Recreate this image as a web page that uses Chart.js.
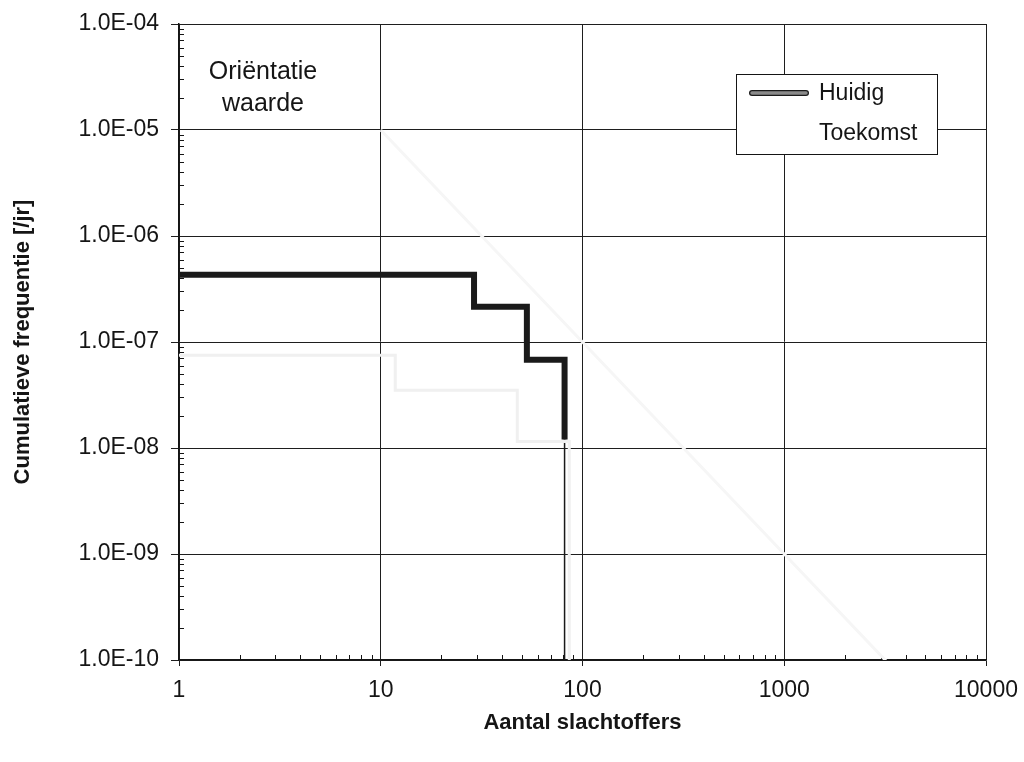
<!DOCTYPE html>
<html>
<head>
<meta charset="utf-8">
<script src="https://cdn.jsdelivr.net/npm/chart.js"></script>
<style>
  html, body { margin: 0; padding: 0; background: #fff; }
</style>
</head>
<body>
<canvas id="fnChart" width="1024" height="762"></canvas>
<script>
// waarden
const xTicks = [1, 10, 100, 1000, 10000];
const xTickLabels = ['1', '10', '100', '1000', '10000'];
const yTicks = [1e-10, 1e-9, 1e-8, 1e-7, 1e-6, 1e-5, 1e-4];
const yTickLabels = ['1.0E-10', '1.0E-09', '1.0E-08', '1.0E-07', '1.0E-06', '1.0E-05', '1.0E-04'];

const seriesNames = ['Huidig', 'Toekomst'];
const noteLines = ['Oriëntatie', 'waarde'];

const huidigN = [1, 29, 53, 81.5];
const huidigF = [4.3e-7, 2.15e-7, 6.8e-8, 1.2e-8];
const huidigTailN = [81.5, 81.5];
const huidigTailF = [1.2e-8, 1e-10];

const toekomstN = [1, 11.8, 47.5, 86];
const toekomstF = [7.5e-8, 3.5e-8, 1.15e-8, 1e-10];

const orientatieN = [10, 100, 1000, 10000];
const orientatieF = [1e-5, 1e-7, 1e-9, 1e-11];

const FONT = '"Liberation Sans", Arial, sans-serif';
const INK = '#151515';
const HUIDIG_GREY = '#8a8a8a';

function toPoints(xs, ys) {
    return xs.map((x, i) => ({ x: x, y: ys[i] }));
}

// kleine streepjes binnen de assen (2..9 per decade)
const minorMarks = {
    id: 'minorMarks',
    beforeDatasetsDraw(chart) {
        const { ctx, chartArea, scales } = chart;
        ctx.save();
        ctx.strokeStyle = INK;
        ctx.lineWidth = 1;
        ctx.beginPath();
        for (let d = 0; d < xTicks.length - 1; d++) {
            for (let m = 2; m <= 9; m++) {
                const px = Math.round(scales.x.getPixelForValue(xTicks[d] * m)) + 0.5;
                ctx.moveTo(px, chartArea.bottom);
                ctx.lineTo(px, chartArea.bottom - 5);
            }
        }
        for (let d = 0; d < yTicks.length - 1; d++) {
            for (let m = 2; m <= 9; m++) {
                const py = Math.round(scales.y.getPixelForValue(yTicks[d] * m)) + 0.5;
                ctx.moveTo(chartArea.left, py);
                ctx.lineTo(chartArea.left + 5, py);
            }
        }
        ctx.stroke();
        ctx.restore();
    }
};

// legenda in een kader en de tekst "Oriëntatie waarde"
const boxLegend = {
    id: 'boxLegend',
    afterDraw(chart) {
        const ctx = chart.ctx;
        ctx.save();
        ctx.fillStyle = '#fff';
        ctx.fillRect(736, 74, 201, 80);
        ctx.strokeStyle = INK;
        ctx.lineWidth = 1;
        ctx.strokeRect(736.5, 74.5, 201, 80);

        ctx.lineCap = 'round';
        ctx.strokeStyle = '#1a1a1a';
        ctx.lineWidth = 6;
        ctx.beginPath(); ctx.moveTo(752, 93); ctx.lineTo(806, 93); ctx.stroke();
        ctx.strokeStyle = HUIDIG_GREY;
        ctx.lineWidth = 3.5;
        ctx.beginPath(); ctx.moveTo(752, 93); ctx.lineTo(806, 93); ctx.stroke();

        ctx.fillStyle = INK;
        ctx.textBaseline = 'middle';
        ctx.textAlign = 'left';
        ctx.font = '23px ' + FONT;
        ctx.fillText(seriesNames[0], 819, 94);
        ctx.fillText(seriesNames[1], 819, 134);

        ctx.textAlign = 'center';
        ctx.font = '25px ' + FONT;
        ctx.fillText(noteLines[0], 263, 72);
        ctx.fillText(noteLines[1], 263, 104);
        ctx.restore();
    }
};

const data = {
    datasets: [
        {
            label: 'orientatie',
            data: toPoints(orientatieN, orientatieF),
            borderColor: '#f6f6f6',
            borderWidth: 3,
            pointRadius: 0
        },
        {
            label: seriesNames[1],
            data: toPoints(toekomstN, toekomstF),
            borderColor: '#f0f0f0',
            borderWidth: 3,
            stepped: 'before',
            pointRadius: 0
        },
        {
            label: 'huidig-rand',
            data: toPoints(huidigN, huidigF),
            borderColor: '#1a1a1a',
            borderWidth: 6,
            stepped: 'before',
            pointRadius: 0
        },
        {
            label: seriesNames[0],
            data: toPoints(huidigN, huidigF),
            borderColor: HUIDIG_GREY,
            borderWidth: 3.5,
            stepped: 'before',
            pointRadius: 0
        },
        {
            label: 'huidig-staart',
            data: toPoints(huidigTailN, huidigTailF),
            borderColor: '#1a1a1a',
            borderWidth: 1.5,
            pointRadius: 0
        }
    ]
};

const options = {
    responsive: false,
    animation: false,
    layout: { padding: { top: 24, right: 38, left: 0, bottom: 0 } },
    plugins: {
        legend: { display: false },
        tooltip: { enabled: false }
    },
    scales: {
        x: {
            type: 'logarithmic',
            min: 1,
            max: 10000,
            afterBuildTicks: s => { s.ticks = xTicks.map(v => ({ value: v })); },
            afterFit: s => { s.height = 102; s.paddingLeft = 0; s.paddingRight = 0; },
            ticks: {
                callback: (v, i) => xTickLabels[i],
                autoSkip: false,
                maxRotation: 0,
                padding: 11,
                color: INK,
                font: { family: FONT, size: 23 }
            },
            grid: { color: '#1e1e1e', lineWidth: 1, tickLength: 6 },
            border: { color: INK, width: 1.5 },
            title: {
                display: true,
                text: 'Aantal slachtoffers',
                color: INK,
                font: { family: FONT, size: 22, weight: 'bold' },
                padding: { top: 0, bottom: 26 }
            }
        },
        y: {
            type: 'logarithmic',
            min: 1e-10,
            max: 1e-4,
            afterBuildTicks: s => { s.ticks = yTicks.map(v => ({ value: v })); },
            afterFit: s => { s.width = 179; s.paddingTop = 0; s.paddingBottom = 0; },
            ticks: {
                callback: (v, i) => yTickLabels[i],
                autoSkip: false,
                padding: 12,
                color: INK,
                font: { family: FONT, size: 23 }
            },
            grid: { color: '#1e1e1e', lineWidth: 1, tickLength: 8 },
            border: { color: INK, width: 1.5 },
            title: {
                display: true,
                text: 'Cumulatieve frequentie [/jr]',
                color: INK,
                font: { family: FONT, size: 22, weight: 'bold' },
                padding: { top: 10, bottom: 0 }
            }
        }
    }
};

new Chart('fnChart', { type: 'line', data, options, plugins: [minorMarks, boxLegend] });
</script>
</body>
</html>
